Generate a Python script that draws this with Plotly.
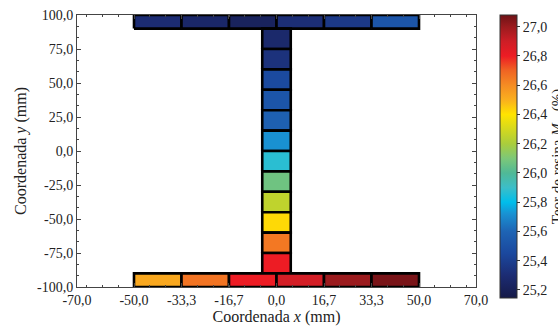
import numpy as np
import plotly.graph_objects as go
from plotly.colors import sample_colorscale

# Cross-section geometry (mm)
flange_edges_x = list(np.linspace(-50.0, 50.0, 7))
top_flange_y = [90.0, 100.0]
bottom_flange_y = [-100.0, -90.0]
web_x = [-5.0, 5.0]
web_edges_y = [90.0, 75.0, 60.0, 45.0, 30.0, 15.0, 0.0, -15.0, -30.0, -45.0, -60.0, -75.0, -90.0]

# Resin content per element (%)
top_flange_values = [25.30, 25.26, 25.22, 25.31, 25.37, 25.52]
web_values = [25.27, 25.33, 25.46, 25.52, 25.58, 25.72, 25.87, 26.07, 26.25, 26.42, 26.65, 26.80]
bottom_flange_values = [26.52, 26.66, 26.80, 26.88, 27.00, 27.06]

# Axis ticks
x_ticks = [-70.0, -50.0, -33.3, -16.7, 0.0, 16.7, 33.3, 50.0, 70.0]
y_ticks = [100.0, 75.0, 50.0, 25.0, 0.0, -25.0, -50.0, -75.0, -100.0]
cbar_ticks = [25.2, 25.4, 25.6, 25.8, 26.0, 26.2, 26.4, 26.6, 26.8, 27.0]

cmin, cmax = 25.145, 27.08
scale_points = [
    (25.145, "rgb(22,26,72)"),
    (25.30, "rgb(28,44,115)"),
    (25.45, "rgb(27,72,158)"),
    (25.60, "rgb(30,100,180)"),
    (25.72, "rgb(25,145,210)"),
    (25.80, "rgb(0,190,235)"),
    (25.90, "rgb(60,190,200)"),
    (26.00, "rgb(80,185,150)"),
    (26.10, "rgb(125,200,120)"),
    (26.20, "rgb(170,205,60)"),
    (26.40, "rgb(255,228,0)"),
    (26.50, "rgb(250,175,30)"),
    (26.60, "rgb(245,140,35)"),
    (26.70, "rgb(240,100,35)"),
    (26.80, "rgb(237,28,36)"),
    (26.90, "rgb(205,30,38)"),
    (27.00, "rgb(155,27,30)"),
    (27.08, "rgb(110,18,22)"),
]
colorscale = [[(v - cmin) / (cmax - cmin), c] for v, c in scale_points]
colorscale[-1][0] = 1.0

SERIF = "Liberation Serif, Times New Roman, Times, serif"


def comma(v, nd=1):
    return f"{v:.{nd}f}".replace(".", ",")


def color_of(v):
    return sample_colorscale(colorscale, [(v - cmin) / (cmax - cmin)])[0]


fig = go.Figure()
centers_x, centers_y, center_vals = [], [], []


def add_element(x0, x1, y0, y1, val):
    fig.add_trace(go.Scatter(
        x=[x0, x1, x1, x0, x0], y=[y0, y0, y1, y1, y0],
        mode="lines", fill="toself", fillcolor=color_of(val),
        line=dict(color="black", width=2.6),
        hoverinfo="skip", showlegend=False,
    ))
    centers_x.append((x0 + x1) / 2)
    centers_y.append((y0 + y1) / 2)
    center_vals.append(val)


for i, v in enumerate(top_flange_values):
    add_element(flange_edges_x[i], flange_edges_x[i + 1], top_flange_y[0], top_flange_y[1], v)
for i, v in enumerate(web_values):
    add_element(web_x[0], web_x[1], web_edges_y[i + 1], web_edges_y[i], v)
for i, v in enumerate(bottom_flange_values):
    add_element(flange_edges_x[i], flange_edges_x[i + 1], bottom_flange_y[0], bottom_flange_y[1], v)

# Colour bar carrier
fig.add_trace(go.Scatter(
    x=centers_x, y=centers_y, mode="markers",
    marker=dict(
        size=1, opacity=0, color=center_vals, colorscale=colorscale,
        cmin=cmin, cmax=cmax, showscale=True,
        colorbar=dict(
            x=1.06, xanchor="left", xpad=0, y=1.0, yanchor="top", ypad=0,
            lenmode="pixels", len=283, thickness=17,
            outlinecolor="#333", outlinewidth=1,
            tickvals=cbar_ticks, ticktext=[comma(t) for t in cbar_ticks],
            ticks="outside", ticklen=3, tickcolor="#333",
            tickfont=dict(family=SERIF, size=14, color="#222"),
            title=dict(text="Teor de resina <i>M</i><sub>m</sub> (%)", side="right",
                       font=dict(family=SERIF, size=15, color="#222")),
        ),
    ),
    hovertemplate="%{marker.color:.2f}<extra></extra>", showlegend=False,
))

font = dict(family=SERIF, size=14, color="#222")
title_font = dict(family=SERIF, size=16, color="#222")
fig.update_layout(
    width=558, height=326,
    margin=dict(l=77, r=82, t=15, b=39, autoexpand=False),
    paper_bgcolor="white", plot_bgcolor="white",
    font=font,
    xaxis=dict(
        range=[-70, 70], tickvals=x_ticks, ticktext=[comma(t) for t in x_ticks],
        automargin=False,
        showgrid=False, zeroline=False, showline=True, linecolor="#444", linewidth=1,
        mirror="ticks", ticks="inside", ticklen=4, tickcolor="#444",
        minor=dict(tickvals=list(np.arange(-12, 13) * 50 / 9), ticks="inside", ticklen=2, tickcolor="#444"),
        title=dict(text="Coordenada <i>x</i> (mm)", font=title_font, standoff=4),
        tickfont=font,
    ),
    yaxis=dict(
        range=[-100, 100], tickvals=y_ticks, ticktext=[comma(t) for t in y_ticks],
        automargin=False,
        showgrid=False, zeroline=False, showline=True, linecolor="#444", linewidth=1,
        mirror="ticks", ticks="inside", ticklen=4, tickcolor="#444",
        minor=dict(tickvals=list(np.arange(-11, 12) * 25 / 3), ticks="inside", ticklen=2, tickcolor="#444"),
        title=dict(text="Coordenada <i>y</i> (mm)", font=title_font, standoff=6),
        tickfont=font,
    ),
)

fig.write_html("out.html")
